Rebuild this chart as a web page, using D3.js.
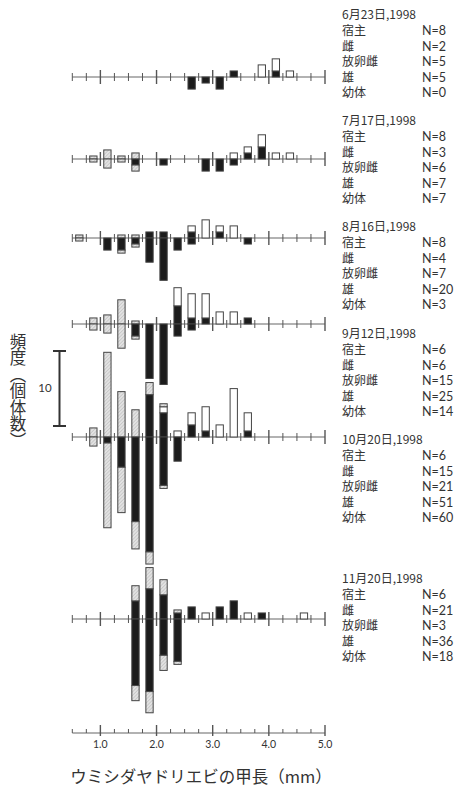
<!DOCTYPE html>
<html>
<head>
<meta charset="utf-8">
<script src="https://cdn.jsdelivr.net/npm/d3@7"></script>
<style>
  body { margin: 0; background: #fff; }
  svg { display: block; }
  text { font-family: "Noto Sans CJK JP", "Noto Sans", sans-serif; fill: #333; }
  .num { font-family: Lato, "Noto Sans", sans-serif; }
</style>
</head>
<body>
<svg id="chart" width="456" height="794"></svg>
<script>
// size classes (carapace length, mm): mid points of 0.25 mm bins
const binMids = [0.625, 0.875, 1.125, 1.375, 1.625, 1.875, 2.125, 2.375, 2.625,
                 2.875, 3.125, 3.375, 3.625, 3.875, 4.125, 4.375, 4.625, 4.875];

const dates = ['6月23日,1998', '7月17日,1998', '8月16日,1998',
               '9月12日,1998', '10月20日,1998', '11月20日,1998'];
const legendNames = ['宿主', '雌', '放卵雌', '雄', '幼体'];
const legendN = [
  [8, 2, 5, 5, 0],
  [8, 3, 6, 7, 7],
  [8, 4, 7, 20, 3],
  [6, 6, 15, 25, 14],
  [6, 15, 21, 51, 60],
  [6, 21, 3, 36, 18]
];

// counts per size class, one row per sampling date
const females = [
  [0,0,0,0,0,0,0,0,0,0,0,1,0,0,1,0,0,0],
  [0,0,0,0,0,0,0,0,0,0,0,0,1,2,0,0,0,0],
  [0,0,0,0,0,1,1,0,1,0,1,0,0,0,0,0,0,0],
  [0,0,0,0,0,0,0,3,1,1,0,0,1,0,0,0,0,0],
  [0,0,0,0,0,7,4,0,2,1,0,0,1,0,0,0,0,0],
  [0,0,0,0,3,5,4,1,2,0,2,3,0,1,0,0,0,0]
];
const ovigerous = [
  [0,0,0,0,0,0,0,0,0,0,0,0,0,2,2,1,0,0],
  [0,0,0,0,0,0,0,0,0,0,0,1,1,2,1,1,0,0],
  [0,0,0,0,0,0,0,0,1,3,1,2,0,0,0,0,0,0],
  [0,0,0,0,0,0,0,3,4,4,2,2,0,0,0,0,0,0],
  [0,0,0,0,0,0,1,1,2,4,2,8,3,0,0,0,0,0],
  [0,0,0,0,0,0,0,0,0,1,0,0,1,0,0,0,1,0]
];
const males = [
  [0,0,0,0,0,0,0,0,2,1,2,0,0,0,0,0,0,0],
  [0,0,0,0,1,0,1,0,0,2,2,1,0,0,0,0,0,0],
  [0,0,2,2,1,4,7,2,1,0,0,0,1,0,0,0,0,0],
  [0,0,0,0,2,9,10,2,1,0,0,0,0,0,0,0,0,0],
  [0,0,1,5,14,19,8,4,0,0,0,0,0,0,0,0,0,0],
  [0,0,0,0,11,12,6,7,0,0,0,0,0,0,0,0,0,0]
];
const juveniles = [
  [0,0,0,0,0,0,0,0,0,0,0,0,0,0,0,0,0,0],
  [0,1,3,1,2,0,0,0,0,0,0,0,0,0,0,0,0,0],
  [1,0,0,1,1,0,0,0,0,0,0,0,0,0,0,0,0,0],
  [0,2,3,8,1,0,0,0,0,0,0,0,0,0,0,0,0,0],
  [0,3,28,15,9,4,1,0,0,0,0,0,0,0,0,0,0,0],
  [0,0,0,0,5,7,5,1,0,0,0,0,0,0,0,0,0,0]
];
const xTickLabels = ['1.0', '2.0', '3.0', '4.0', '5.0'];

// layout
const axisY = [77, 159, 238, 324, 437, 619];
const labelY = [14, 120, 226, 333, 439, 578];
const unitPx = 6.05;
const bottomY = 733;

const svg = d3.select('#chart');

const defs = svg.append('defs');
const pat = defs.append('pattern')
  .attr('id', 'hatch')
  .attr('width', 2.5).attr('height', 2.5)
  .attr('patternUnits', 'userSpaceOnUse')
  .attr('patternTransform', 'rotate(45)');
pat.append('rect').attr('width', 2.5).attr('height', 2.5).attr('fill', '#e2e2e2');
pat.append('line').attr('x1', 0).attr('y1', 0).attr('x2', 0).attr('y2', 2.5)
  .attr('stroke', '#b0b0b0').attr('stroke-width', 0.9);

const x = d3.scaleLinear().domain([0.5, 5.0]).range([72.3, 325]);
const tickVals = d3.range(0.5, 5.001, 0.25);
const barW = (x(0.25) - x(0)) * 0.52;

const fills = { f: '#1c1c1c', o: '#fff', j: 'url(#hatch)', m: '#1c1c1c' };

function drawAxis(g, y0, minor, major) {
  g.append('line')
    .attr('x1', x(0.5)).attr('x2', x(5.0))
    .attr('y1', y0).attr('y2', y0)
    .attr('stroke', '#666').attr('stroke-width', 1.2);
  g.selectAll('line.tick')
    .data(tickVals)
    .join('line')
    .attr('class', 'tick')
    .attr('x1', d => x(d)).attr('x2', d => x(d))
    .attr('y1', d => y0 - (d % 1 === 0 ? major : minor))
    .attr('y2', d => y0 + (d % 1 === 0 ? major : minor))
    .attr('stroke', '#555')
    .attr('stroke-width', d => d % 1 === 0 ? 1.4 : 1);
}

dates.forEach((date, p) => {
  const y = d3.scaleLinear().domain([0, 1]).range([axisY[p], axisY[p] - unitPx]);
  const g = svg.append('g').attr('class', 'panel');

  drawAxis(g, axisY[p], 4, 7);

  // stacked segments: females, ovigerous, half juveniles above; males, half juveniles below
  const segs = [];
  binMids.forEach((mid, i) => {
    const f = females[p][i], o = ovigerous[p][i], m = males[p][i], j = juveniles[p][i] / 2;
    if (f) segs.push({ mid, a: 0, b: f, t: 'f' });
    if (o) segs.push({ mid, a: f, b: f + o, t: 'o' });
    if (j) segs.push({ mid, a: f + o, b: f + o + j, t: 'j' });
    if (m) segs.push({ mid, a: 0, b: -m, t: 'm' });
    if (j) segs.push({ mid, a: -m, b: -m - j, t: 'j' });
  });

  g.selectAll('rect.seg')
    .data(segs)
    .join('rect')
    .attr('class', 'seg')
    .attr('x', d => x(d.mid) - barW / 2)
    .attr('width', barW)
    .attr('y', d => Math.min(y(d.a), y(d.b)))
    .attr('height', d => Math.abs(y(d.a) - y(d.b)))
    .attr('fill', d => fills[d.t])
    .attr('stroke', '#444')
    .attr('stroke-width', 1);

  // legend block on the right
  const lg = svg.append('g').attr('transform', `translate(342, ${labelY[p]})`);
  lg.append('text').attr('y', 4.5).attr('font-size', 12).text(date);
  legendNames.forEach((name, k) => {
    const ty = 21 + k * 15.6;
    lg.append('text').attr('y', ty).attr('font-size', 12).text(name);
    lg.append('text').attr('class', 'num').attr('x', 80).attr('y', ty)
      .attr('font-size', 12.5).text('N=' + legendN[p][k]);
  });
});

// bottom axis
const gb = svg.append('g');
gb.append('line')
  .attr('x1', x(0.5)).attr('x2', x(5.0))
  .attr('y1', bottomY).attr('y2', bottomY)
  .attr('stroke', '#666').attr('stroke-width', 1.2);
gb.selectAll('line.tick')
  .data(tickVals)
  .join('line')
  .attr('x1', d => x(d)).attr('x2', d => x(d))
  .attr('y1', d => bottomY - (d % 1 === 0 ? 8 : 4))
  .attr('y2', d => bottomY + (d % 1 === 0 ? 3 : 0))
  .attr('stroke', '#555')
  .attr('stroke-width', d => d % 1 === 0 ? 1.4 : 1);
gb.selectAll('text')
  .data(xTickLabels)
  .join('text')
  .attr('class', 'num')
  .attr('x', d => x(+d))
  .attr('y', bottomY + 15)
  .attr('text-anchor', 'middle')
  .attr('font-size', 10.5)
  .attr('fill', '#444')
  .text(d => d);

svg.append('text')
  .attr('x', 201).attr('y', 783)
  .attr('text-anchor', 'middle')
  .attr('font-size', 16.5)
  .text('ウミシダヤドリエビの甲長（mm）');

// y label and scale bar
svg.append('text')
  .attr('x', 18).attr('y', 333)
  .attr('font-size', 16.5)
  .style('writing-mode', 'vertical-rl')
  .text('頻度（個体数）');

const sb = svg.append('g').attr('stroke', '#333').attr('stroke-width', 2);
sb.append('line').attr('x1', 59.5).attr('x2', 59.5).attr('y1', 351).attr('y2', 426);
sb.append('line').attr('x1', 53).attr('x2', 66).attr('y1', 351).attr('y2', 351);
sb.append('line').attr('x1', 53).attr('x2', 66).attr('y1', 426).attr('y2', 426);
svg.append('text')
  .attr('class', 'num')
  .attr('x', 45).attr('y', 392)
  .attr('text-anchor', 'middle')
  .attr('font-size', 11.5)
  .text('10');
</script>
</body>
</html>
